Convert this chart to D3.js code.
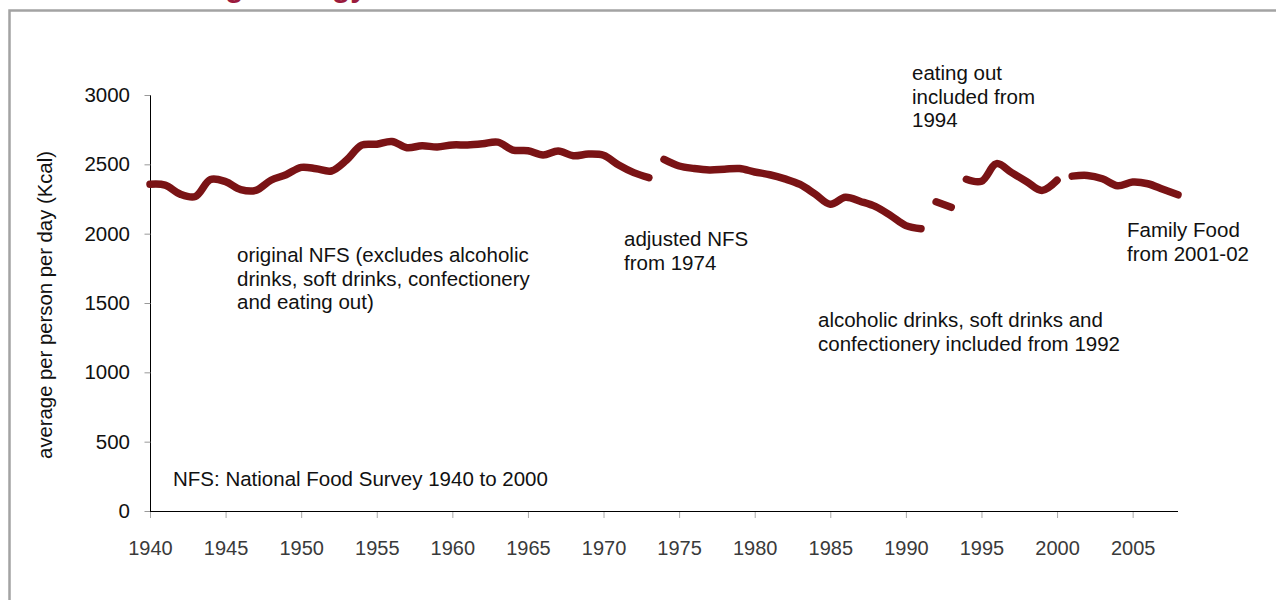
<!DOCTYPE html>
<html>
<head>
<meta charset="utf-8">
<script src="https://cdn.jsdelivr.net/npm/d3@7"></script>
<style>
  html, body { margin: 0; padding: 0; background: #fff; }
  svg { display: block; font-family: "Liberation Sans", Arial, sans-serif; }
</style>
</head>
<body>
<svg id="chart" width="1276" height="600"></svg>
<script>
// Energy intake per person per day, by survey series (Kcal)
const originalYears = [1940, 1941, 1942, 1943, 1944, 1945, 1946, 1947, 1948, 1949,
  1950, 1951, 1952, 1953, 1954, 1955, 1956, 1957, 1958, 1959,
  1960, 1961, 1962, 1963, 1964, 1965, 1966, 1967, 1968, 1969,
  1970, 1971, 1972, 1973];
const originalValues = [2356, 2350, 2285, 2268, 2390, 2375, 2318, 2312, 2385, 2425,
  2478, 2468, 2452, 2530, 2638, 2645, 2665, 2620, 2634, 2625,
  2640, 2640, 2648, 2660, 2603, 2598, 2567, 2596, 2562, 2574,
  2565, 2495, 2440, 2404];

const adjustedYears = [1974, 1975, 1976, 1977, 1978, 1979, 1980, 1981, 1982, 1983,
  1984, 1985, 1986, 1987, 1988, 1989, 1990, 1991];
const adjustedValues = [2536, 2488, 2470, 2460, 2465, 2470, 2445, 2425, 2395, 2355,
  2285, 2212, 2262, 2232, 2195, 2130, 2058, 2036];

const drinksYears = [1992, 1993];
const drinksValues = [2230, 2190];

const eatingOutYears = [1994, 1995, 1996, 1997, 1998, 1999, 2000];
const eatingOutValues = [2392, 2378, 2505, 2440, 2375, 2312, 2385];

const familyFoodYears = [2001, 2002, 2003, 2004, 2005, 2006, 2007, 2008];
const familyFoodValues = [2415, 2420, 2396, 2345, 2372, 2360, 2320, 2280];

const xTicks = [1940, 1945, 1950, 1955, 1960, 1965, 1970, 1975, 1980, 1985, 1990, 1995, 2000, 2005];
const yTicks = [0, 500, 1000, 1500, 2000, 2500, 3000];

const notes = [
  { lines: ["original NFS (excludes alcoholic", "drinks, soft drinks, confectionery", "and eating out)"], x: 237, y: 262 },
  { lines: ["adjusted NFS", "from 1974"], x: 624, y: 246 },
  { lines: ["eating out", "included from", "1994"], x: 912, y: 80 },
  { lines: ["alcoholic drinks, soft drinks and", "confectionery included from 1992"], x: 818, y: 327 },
  { lines: ["Family Food", "from 2001-02"], x: 1127, y: 237 },
  { lines: ["NFS: National Food Survey 1940 to 2000"], x: 173, y: 486 }
];

const svg = d3.select("#chart");

// outer panel border
svg.append("rect")
  .attr("x", 9.5).attr("y", 10.5)
  .attr("width", 1400).attr("height", 700)
  .attr("fill", "none").attr("stroke", "#a3a3a3").attr("stroke-width", 2.5);

// heading sitting above the panel
svg.append("text")
  .attr("x", 367).attr("y", -3)
  .attr("text-anchor", "end")
  .attr("fill", "#9b1b3d")
  .attr("font-weight", "bold")
  .attr("font-size", 30)
  .text("average energy");

const x = d3.scaleLinear().domain([1940, 2008]).range([150, 1178]);
const y = d3.scaleLinear().domain([0, 3000]).range([511, 95]);

// y axis
const yAxis = svg.append("g").attr("transform", "translate(150,0)")
  .call(d3.axisLeft(y).tickValues(yTicks).tickFormat(d3.format("d")).tickSize(6).tickPadding(14));
yAxis.select(".domain").attr("stroke", "#000").attr("d", `M0.5,${y(3000)}V${y(0) + 0.5}`);
yAxis.selectAll(".tick line").attr("stroke", "#999").attr("transform", "translate(0.5,0)");
yAxis.selectAll(".tick text").attr("font-size", 20.5).attr("fill", "#111")
  .attr("font-family", "Liberation Sans, Arial, sans-serif");

// x axis
const xAxis = svg.append("g").attr("transform", "translate(0,511)")
  .call(d3.axisBottom(x).tickValues(xTicks).tickFormat(d3.format("d")).tickSize(6).tickPadding(24));
xAxis.select(".domain").attr("stroke", "#000").attr("d", `M${x(1940)},0.5H${x(2008)}`);
xAxis.selectAll(".tick line").attr("stroke", "#aaa").attr("transform", "translate(0,1)");
xAxis.selectAll(".tick text").attr("font-size", 20).attr("fill", "#3a3a3a")
  .attr("font-family", "Liberation Sans, Arial, sans-serif");

// y axis title
svg.append("text")
  .attr("transform", `translate(52,${(y(0) + y(3000)) / 2 + 2}) rotate(-90)`)
  .attr("text-anchor", "middle")
  .attr("font-size", 20.3)
  .attr("fill", "#111")
  .text("average per person per day (Kcal)");

// series segments
const segments = [
  [originalYears, originalValues],
  [adjustedYears, adjustedValues],
  [drinksYears, drinksValues],
  [eatingOutYears, eatingOutValues],
  [familyFoodYears, familyFoodValues]
];

const line = d3.line()
  .x(d => x(d[0]))
  .y(d => y(d[1]))
  .curve(d3.curveCatmullRom.alpha(0.5));

svg.append("g").selectAll("path")
  .data(segments.map(([ys, vs]) => ys.map((yr, i) => [yr, vs[i]])))
  .join("path")
  .attr("d", line)
  .attr("fill", "none")
  .attr("stroke", "#7a1315")
  .attr("stroke-width", 7.5)
  .attr("stroke-linecap", "round")
  .attr("stroke-linejoin", "round");

// annotations
const noteG = svg.append("g").attr("font-size", 20.5).attr("fill", "#111");
notes.forEach(n => {
  const t = noteG.append("text").attr("x", n.x).attr("y", n.y);
  n.lines.forEach((s, i) => {
    t.append("tspan").attr("x", n.x).attr("dy", i === 0 ? 0 : 23.5).text(s);
  });
});
</script>
</body>
</html>
